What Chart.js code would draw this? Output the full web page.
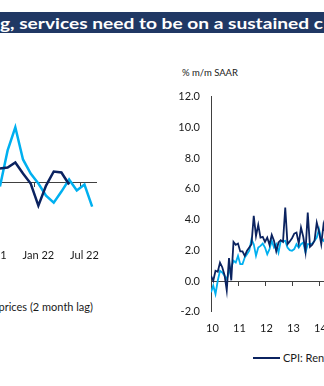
<!DOCTYPE html>
<html><head><meta charset="utf-8">
<script src="https://cdn.jsdelivr.net/npm/chart.js@4"></script>
<style>
html,body{margin:0;padding:0;width:324px;height:386px;overflow:hidden;background:#fff;font-family:Lato,'Noto Sans',sans-serif;color:#1a1a1a;}
.box{position:absolute;}
#banner{position:absolute;left:0;top:12px;width:324px;height:21px;background:#203864;overflow:hidden;}
#title{position:absolute;left:0;top:0;color:#fff;font-weight:bold;font-size:16px;line-height:21px;white-space:nowrap;transform-origin:0 0;}
.txt{position:absolute;white-space:nowrap;}
</style></head>
<body>
<div id="banner"><span id="title">g, services need to be on a sustained c</span></div>
<div class="box" id="leftBox" style="left:-50px;top:62px;width:158px;height:203px;"><canvas id="left"></canvas></div>
<div class="box" id="rightBox" style="left:171px;top:79px;width:185px;height:266px;"><canvas id="right"></canvas></div>
<div class="txt" id="leftLegend" style="right:231px;top:300px;font-size:11px;line-height:14px;">prices (2 month lag)</div>
<div class="txt" style="left:182px;top:67px;font-size:9.5px;line-height:12px;">% m/m SAAR</div>
<div class="box" style="left:253px;top:357px;width:27px;height:2px;background:#0B2360;"></div>
<div class="txt" style="left:283px;top:351px;font-size:11px;line-height:14px;">CPI: Rent</div>
<script>
// ---- data ----
const leftLabels = ['Feb 21','Mar 21','Apr 21','May 21','Jun 21','Jul 21','Aug 21','Sep 21','Oct 21','Nov 21','Dec 21',
                    'Jan 22','Feb 22','Mar 22','Apr 22','May 22','Jun 22','Jul 22','Aug 22'];
const leftNavy  = [null,null,null,null,null,null,0.44,0.45,0.50,0.39,0.29,0.07,0.27,0.41,0.40,0.28,null,null,null];
const leftLight = [null,null,null,null,null,null,0.26,0.62,0.85,0.53,0.39,0.29,0.17,0.10,0.21,0.33,0.22,0.28,0.06];
const leftAxisValue = 0.3;

const rightYears = ['10','11','12','13','14'];
const rightNavy = [0.34,0.02,0.67,0.6,1.2,0.9,0.4,-0.6,1.5,0.05,2.55,2.36,2.44,1.93,1.93,1.64,1.97,2.18,2.4,4.24,2.94,3.66,2.83,2.88,2.55,2.83,2.36,3.0,2.62,1.93,2.51,2.66,2.55,4.78,2.4,2.58,2.79,3.09,3.16,2.44,3.48,2.88,1.93,4.45,2.23,2.36,2.62,3.8,3.22,2.4,3.66,3.0];
const rightLight = [-0.73,-0.3,-0.84,0.02,0.67,0.56,0.35,0.13,0.56,0.89,1.32,1.21,1.64,1.1,1.1,1.53,1.75,1.97,2.72,2.4,1.64,2.18,2.29,2.44,2.18,1.75,2.08,2.62,2.18,2.4,1.86,2.62,2.58,2.62,2.18,2.01,1.97,2.08,2.4,2.18,2.4,2.51,1.86,2.4,2.4,2.44,2.62,2.83,3.37,2.72,2.62,2.94];
const rightYTicks = [-2,0,2,4,6,8,10,12];

const NAVY = '#0B2360', LIGHT = '#00B0F0', AXIS = '#404040', TXT = '#1a1a1a';
const FONT = {family: 'Lato', size: 11};

const t = document.getElementById('title');
t.style.transform = 'scaleX(' + (323 / t.getBoundingClientRect().width) + ')';

new Chart(document.getElementById('left'), {
  type: 'line',
  data: {
    labels: leftLabels,
    datasets: [
      {label: 'Series A', data: leftNavy, borderColor: NAVY, borderWidth: 2.5, pointRadius: 0, tension: 0, xAxisID: 'x'},
      {label: 'Series B (2 month lag)', data: leftLight, borderColor: LIGHT, borderWidth: 2.5, pointRadius: 0, tension: 0, xAxisID: 'x'}
    ]
  },
  options: {
    animation: false, responsive: true, maintainAspectRatio: false, devicePixelRatio: 1,
    layout: {padding: {left: 0, top: 0, bottom: 0, right: 12}},
    plugins: {legend: {display: false}, tooltip: {enabled: false}},
    scales: {
      y: {display: false, min: -0.33, max: 1.5},
      x: {
        type: 'category', offset: true, position: {y: leftAxisValue},
        grid: {display: true, drawOnChartArea: false, drawTicks: true, tickLength: 4, offset: true,
               tickColor: (c) => (c.index != null && /^(Jan|Jul)/.test(leftLabels[c.index])) ? AXIS : 'rgba(0,0,0,0)'},
        border: {display: true, color: AXIS, width: 1},
        ticks: {display: false, autoSkip: false}
      },
      x2: {
        type: 'category', offset: true, position: 'bottom',
        grid: {display: false, drawTicks: false}, border: {display: false},
        ticks: {autoSkip: false, maxRotation: 0, padding: 3, color: TXT, font: FONT,
                callback: (v, i) => /^(Jan|Jul)/.test(leftLabels[i]) ? leftLabels[i] : ''}
      }
    }
  }
});

new Chart(document.getElementById('right'), {
  type: 'line',
  data: {
    datasets: [
      {label: 'CPI: Rent', data: rightNavy.map((v, i) => ({x: i, y: v})), borderColor: NAVY, borderWidth: 1.8, pointRadius: 0, tension: 0, xAxisID: 'x'},
      {label: 'Series 2', data: rightLight.map((v, i) => ({x: i, y: v})), borderColor: LIGHT, borderWidth: 1.8, pointRadius: 0, tension: 0, xAxisID: 'x'}
    ]
  },
  options: {
    animation: false, responsive: true, maintainAspectRatio: false, devicePixelRatio: 1,
    layout: {padding: 0},
    plugins: {legend: {display: false}, tooltip: {enabled: false}},
    scales: {
      y: {
        min: -2, max: 12, position: 'left',
        afterFit: (s) => { s.width = 40; },
        afterBuildTicks: (s) => { s.ticks = rightYTicks.map(v => ({value: v})); },
        grid: {display: false, drawTicks: false},
        border: {display: true, color: AXIS, width: 1},
        ticks: {padding: 11, color: TXT, font: FONT, callback: (v) => Number(v).toFixed(1)}
      },
      x: {
        type: 'linear', min: 0, max: 60, position: {y: 0},
        grid: {display: true, drawOnChartArea: false, drawTicks: true, tickLength: 4, tickColor: AXIS},
        border: {display: true, color: AXIS, width: 1},
        ticks: {display: false, stepSize: 12}
      },
      x2: {
        type: 'linear', min: 0, max: 60, position: 'bottom',
        grid: {display: false, drawTicks: false}, border: {display: false},
        ticks: {stepSize: 12, padding: 10, labelOffset: 1.5, maxRotation: 0, color: TXT, font: FONT,
                callback: (v) => (v % 12 === 0 && rightYears[v / 12] !== undefined) ? rightYears[v / 12] : ''}
      }
    }
  }
});
</script>
</body></html>
